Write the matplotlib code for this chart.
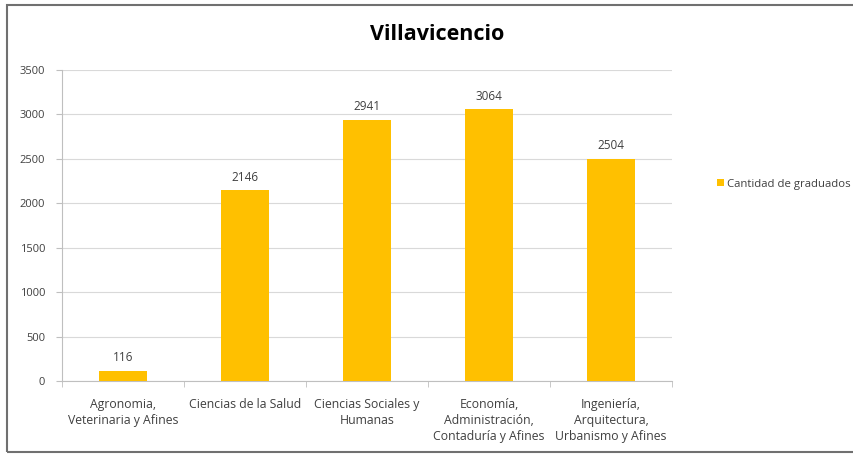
import matplotlib
matplotlib.use("Agg")
import matplotlib.pyplot as plt
from matplotlib.patches import Rectangle

categorias = [
    "Agronomia,\nVeterinaria y Afines",
    "Ciencias de la Salud",
    "Ciencias Sociales y\nHumanas",
    "Economía,\nAdministración,\nContaduría y Afines",
    "Ingeniería,\nArquitectura,\nUrbanismo y Afines",
]
graduados = [116, 2146, 2941, 3064, 2504]
y_ticks = [0, 500, 1000, 1500, 2000, 2500, 3000, 3500]

COLORS = {
    "bar": "#FFC000",
    "grid": "#D9D9D9",
    "axis": "#BFBFBF",
    "text": "#404040",
    "frame": "#707070",
}

plt.rcParams["font.family"] = ["Open Sans", "DejaVu Sans"]

fig = plt.figure(figsize=(8.54, 4.54), dpi=100)
ax = fig.add_axes([62 / 854, 1 - 381 / 454, 610 / 854, 311 / 454])

x = range(len(categorias))
bars = ax.bar(x, graduados, width=0.4, color=COLORS["bar"], zorder=3,
              label="Cantidad de graduados")
for bar, val in zip(bars, graduados):
    ax.text(bar.get_x() + bar.get_width() / 2, val + 70, str(val),
            ha="center", va="bottom", fontsize=8.5, color=COLORS["text"])

ax.set_xlim(-0.5, len(categorias) - 0.5)
ax.set_ylim(0, 3500)
ax.set_yticks(y_ticks)
ax.set_yticklabels([str(t) for t in y_ticks], fontsize=8, color=COLORS["text"])
ax.set_xticks(list(x))
ax.set_xticklabels(categorias, fontsize=8.8, color=COLORS["text"], linespacing=1.3)
ax.tick_params(axis="x", length=0, pad=12)
ax.tick_params(axis="y", length=4, color=COLORS["axis"], pad=8)
# marcas entre categorias
ax.set_xticks([i - 0.5 for i in range(len(categorias) + 1)], minor=True)
ax.tick_params(axis="x", which="minor", length=4, color=COLORS["axis"])

ax.grid(axis="y", color=COLORS["grid"], linewidth=0.8, zorder=0)
for side in ["top", "right"]:
    ax.spines[side].set_visible(False)
ax.spines["left"].set_color(COLORS["axis"])
ax.spines["bottom"].set_color(COLORS["axis"])

fig.text(437 / 854, 1 - 35 / 454, "Villavicencio", ha="center", va="center",
         fontsize=15.5, fontweight="bold", color="black")

ax.legend(loc="center left", bbox_to_anchor=(707 / 854, 1 - 184 / 454),
          bbox_transform=fig.transFigure, frameon=False, fontsize=8.2,
          handlelength=0.6, handleheight=0.6, handletextpad=0.3,
          labelcolor=COLORS["text"])

# marco del grafico
fig.patches.append(Rectangle((7 / 854, 2 / 454), 860 / 854, 447 / 454,
                             transform=fig.transFigure, fill=False,
                             edgecolor=COLORS["frame"], linewidth=1.5))

fig.savefig("out.png", dpi=100)
plt.close(fig)
